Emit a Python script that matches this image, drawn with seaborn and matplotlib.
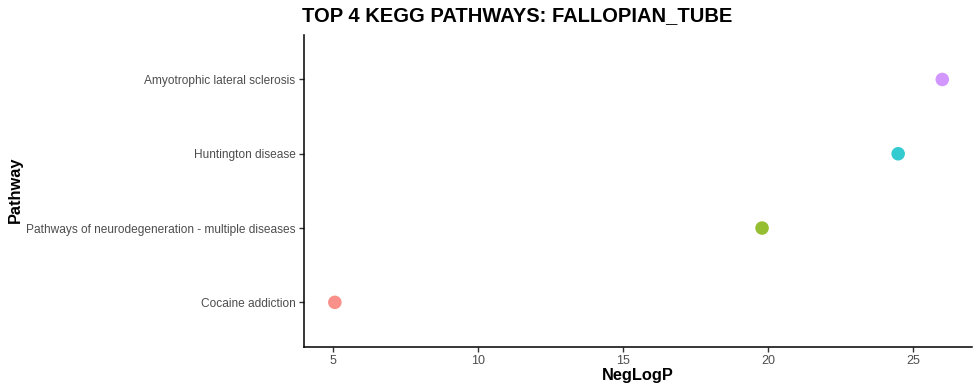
import matplotlib
matplotlib.use("Agg")
import matplotlib.pyplot as plt
import seaborn as sns
import pandas as pd

pathways = ["Cocaine addiction",
            "Pathways of neurodegeneration - multiple diseases",
            "Huntington disease",
            "Amyotrophic lateral sclerosis"]
neglogp = [5.07, 19.79, 24.48, 26.0]
colors = ["#F8766D", "#7CAE00", "#00BFC4", "#C77CFF"]
xticks = [5, 10, 15, 20, 25]

sns.set_theme(style="ticks")
plt.rcParams['font.family'] = ['Liberation Sans', 'DejaVu Sans']

df = pd.DataFrame({"Pathway": pathways, "NegLogP": neglogp})

fig = plt.figure(figsize=(9.8, 3.92), dpi=100)
ax = fig.add_axes([0.310, 0.115, 0.682, 0.796])
sns.scatterplot(data=df, x="NegLogP", y="Pathway", hue="Pathway",
                hue_order=pathways, palette=colors,
                s=95, alpha=0.8, linewidth=0, legend=False, ax=ax)
ax.set_yticks(range(len(pathways)))
ax.set_yticklabels(pathways)
ax.set_ylim(-0.6, len(pathways) - 1 + 0.6)
ax.set_xlim(4.0, 27.03)
ax.set_xticks(xticks)
ax.set_xticklabels([str(t) for t in xticks])

for s in ["top", "right"]:
    ax.spines[s].set_visible(False)
for s in ["left", "bottom"]:
    ax.spines[s].set_color("black")
    ax.spines[s].set_linewidth(1.1)
ax.tick_params(axis="both", length=3.5, width=1.0, color="#333333",
               labelcolor="#4D4D4D", labelsize=8.55, pad=2.5)
ax.tick_params(axis="x", labelsize=9)

ax.set_xlabel("")
ax.set_ylabel("")
fig.text(0.651, 0.043, "NegLogP", ha="center", va="center",
         fontsize=11.8, fontweight="bold", color="black")
fig.text(0.016, 0.515, "Pathway", ha="center", va="center",
         fontsize=11.8, fontweight="bold", rotation=90, color="black")
fig.text(0.528, 0.960, "TOP 4 KEGG PATHWAYS: FALLOPIAN_TUBE", ha="center",
         va="center", fontsize=14.5, fontweight="bold", color="black")

fig.savefig("out.png", dpi=100)
